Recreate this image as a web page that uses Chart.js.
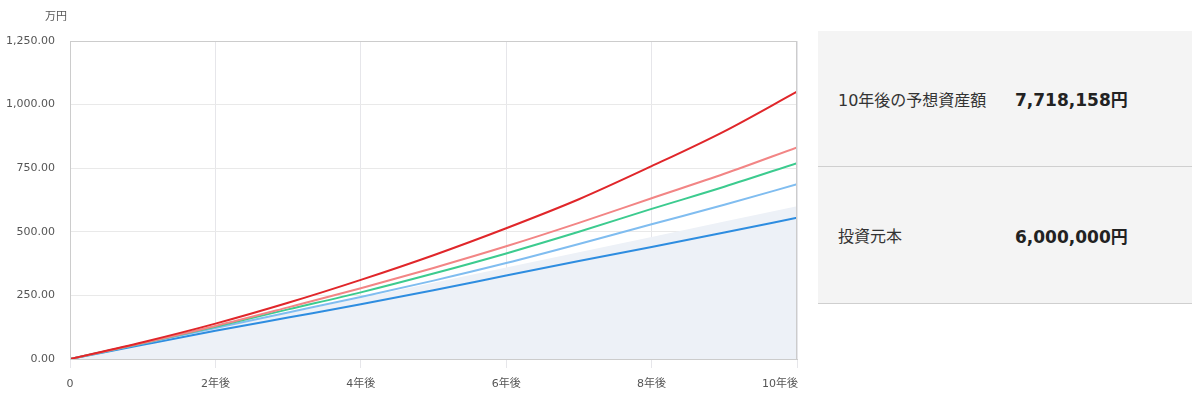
<!DOCTYPE html>
<html lang="ja">
<head>
<meta charset="utf-8">
<script src="https://cdn.jsdelivr.net/npm/chart.js@4.4.1/dist/chart.umd.min.js"></script>
<style>
  html, body { margin: 0; padding: 0; background: #fff; }
  body { width: 1200px; height: 401px; position: relative; overflow: hidden;
         font-family: "DejaVu Sans", "Noto Sans CJK JP", sans-serif; }
  #chartBox { position: absolute; left: 0; top: 0; width: 810px; height: 401px; }
  #panel { position: absolute; left: 818px; top: 31px; width: 374px; background: #f4f4f4; }
  .row { height: 135px; border-bottom: 1px solid #cfcfcf; display: flex; align-items: center; box-sizing: content-box; }
  .row + .row { height: 136px; }
  .lbl { width: 177px; padding-left: 20px; font-size: 16px; color: #333; }
  .val { font-size: 17px; font-weight: bold; color: #222; }
</style>
</head>
<body>
<div id="chartBox"><canvas id="c"></canvas></div>
<div id="panel">
  <div class="row"><div class="lbl">10年後の予想資産額</div><div class="val">7,718,158円</div></div>
  <div class="row"><div class="lbl">投資元本</div><div class="val">6,000,000円</div></div>
</div>
<script>
// ---- data (万円), one point per year ----
const years      = [0, 1, 2, 3, 4, 5, 6, 7, 8, 9, 10];
const principal  = [0, 60, 120, 180, 240, 300, 360, 420, 480, 540, 600];
const redLine    = [0, 66, 139, 221, 311, 408, 514, 628, 758, 895, 1051];
const salmonLine = [0, 63, 130, 203, 278, 358, 443, 535, 632, 728, 832];
const greenLine  = [0, 62, 127, 195, 262, 336, 415, 500, 590, 677, 770];
const lightBlue  = [0, 61, 122, 183, 244, 308, 377, 452, 530, 606, 687];
const darkBlue   = [0, 56, 111, 163, 215, 270, 328, 385, 440, 497, 555];
const yTicks     = [0, 250, 500, 750, 1000, 1250];
const xTickYears = [0, 2, 4, 6, 8, 10];
const yUnit      = '万円';

const pts = arr => arr.map((v, i) => ({ x: years[i], y: v }));
const FONT = '"DejaVu Sans", "Noto Sans CJK JP", sans-serif';

const frame = {
  id: 'frame',
  afterDraw(chart) {
    const { ctx, chartArea: a, scales } = chart;
    ctx.save();
    ctx.strokeStyle = '#cccccc';
    ctx.lineWidth = 1;
    ctx.strokeRect(a.left + 0.5, a.top + 0.5, a.right - a.left - 1, a.bottom - a.top);
    // unit
    ctx.fillStyle = '#555';
    ctx.font = '11px ' + FONT;
    ctx.textAlign = 'center';
    ctx.textBaseline = 'middle';
    ctx.fillText(yUnit, 56, 17);
    // x labels
    const xs = scales.x;
    xTickYears.forEach(v => {
      const txt = v === 0 ? '0' : v + '年後';
      let px = xs.getPixelForValue(v);
      const w = ctx.measureText(txt).width;
      if (px + w / 2 > a.right + 1) { ctx.textAlign = 'right'; px = a.right + 1; }
      else ctx.textAlign = 'center';
      ctx.fillText(txt, px, 384);
    });
    ctx.restore();
  }
};

const line = (data, color, order) => ({
  data: pts(data), borderColor: color, borderWidth: 2, pointRadius: 0,
  fill: false, cubicInterpolationMode: 'monotone', order
});

new Chart(document.getElementById('c'), {
  type: 'line',
  data: {
    datasets: [
      line(redLine, '#e0262a', 1),
      line(salmonLine, '#f28585', 2),
      line(greenLine, '#3ccb8f', 3),
      line(lightBlue, '#80bdf0', 4),
      line(darkBlue, '#2e8de0', 5),
      { data: pts(principal), borderWidth: 0, borderColor: 'rgba(0,0,0,0)', backgroundColor: '#edf1f7',
        fill: 'origin', pointRadius: 0, order: 10 }
    ]
  },
  options: {
    responsive: true, maintainAspectRatio: false, animation: false,
    layout: { padding: { top: 41, right: 13, bottom: 0, left: 0 } },
    plugins: { legend: { display: false }, tooltip: { enabled: false } },
    scales: {
      x: {
        type: 'linear', min: 0, max: 10,
        afterFit(s) { s.height = 42; },
        afterBuildTicks(s) { s.ticks = xTickYears.map(v => ({ value: v })); },
        grid: { color: '#e6e6ea', tickLength: 9, drawTicks: true },
        border: { color: '#cccccc' },
        ticks: { color: 'rgba(0,0,0,0)', font: { size: 11, family: FONT } }
      },
      y: {
        min: 0, max: 1250,
        afterFit(s) { s.width = 70; },
        afterBuildTicks(s) { s.ticks = yTicks.map(v => ({ value: v })); },
        grid: { color: '#e9e9e9', drawTicks: false },
        border: { color: '#cccccc' },
        ticks: {
          padding: 15, color: '#555', font: { size: 11, family: FONT },
          callback: v => v.toLocaleString('en-US', { minimumFractionDigits: 2, maximumFractionDigits: 2 })
        }
      }
    }
  },
  plugins: [frame]
});
</script>
</body>
</html>
